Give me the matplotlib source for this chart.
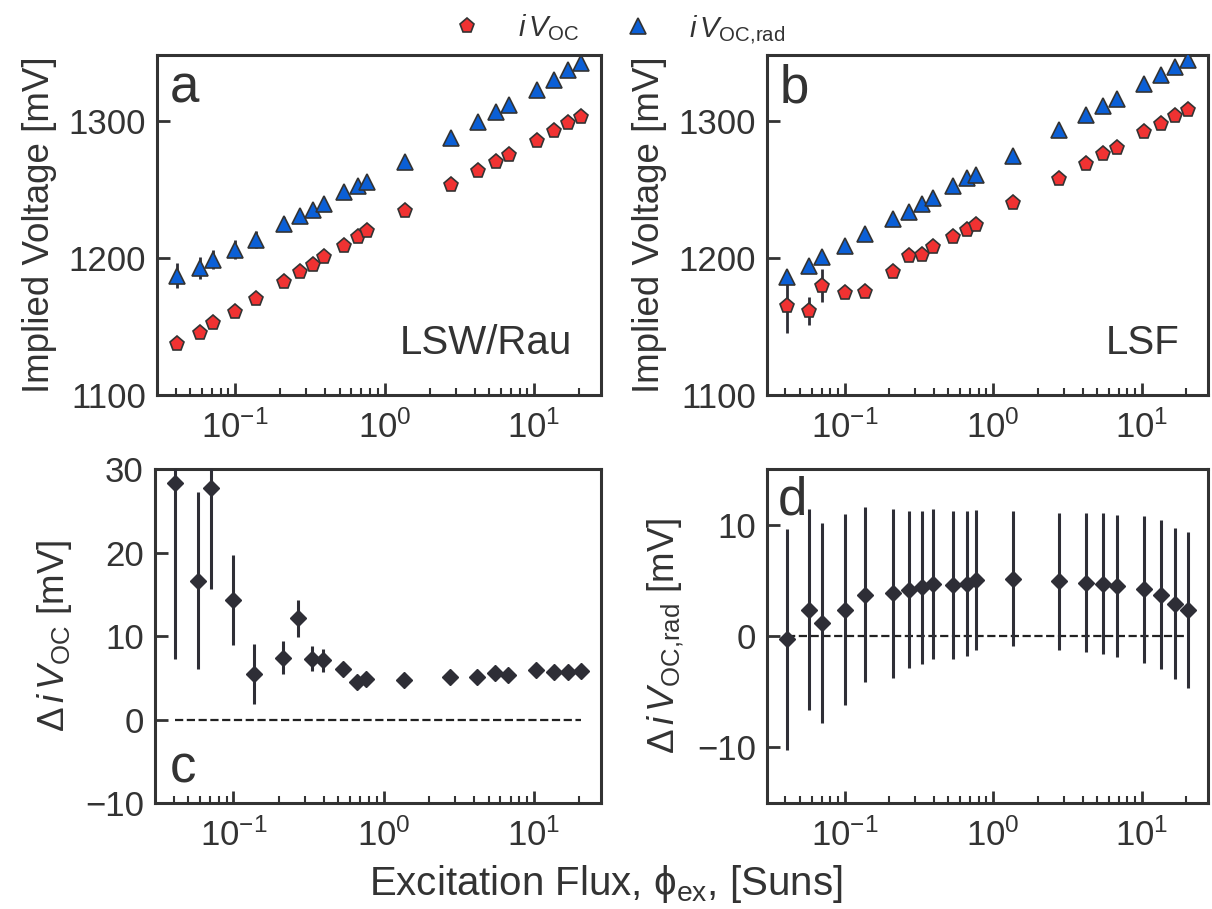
import numpy as np
import matplotlib.pyplot as plt
from matplotlib.lines import Line2D

# excitation flux [Suns], shared by all panels
flux = [0.041, 0.058, 0.071, 0.100, 0.138, 0.213, 0.270, 0.331, 0.396, 0.534, 0.664,
        0.766, 1.36, 2.76, 4.20, 5.52, 6.78, 10.4, 13.6, 16.9, 20.5]

# panel a: LSW/Rau
voc_a = [1136.9, 1145.0, 1152.3, 1160.6, 1169.9, 1182.6, 1190.0, 1195.1, 1200.7, 1209.0, 1215.2,
         1219.3, 1234.5, 1253.0, 1263.3, 1270.2, 1275.1, 1284.9, 1292.7, 1298.1, 1302.7]
voc_a_err = [2, 2, 2, 2, 2, 2, 2, 2, 2, 2, 2, 2, 2, 2, 2, 2, 2, 2, 2, 2, 2]
rad_a = [1187.0, 1192.4, 1198.8, 1206.1, 1213.4, 1224.9, 1230.3, 1234.7, 1239.6, 1247.7, 1252.6,
         1255.0, 1270.2, 1287.8, 1299.0, 1306.2, 1311.7, 1322.7, 1330.1, 1336.7, 1342.3]
rad_a_err = [9, 8, 7, 7, 6, 5, 4, 4, 4, 3, 3, 3, 3, 3, 3, 3, 3, 3, 3, 3, 3]

# panel b: LSF
voc_b = [1165.0, 1161.3, 1179.7, 1174.1, 1174.8, 1190.0, 1201.7, 1202.2, 1207.8, 1215.2, 1220.0,
         1223.7, 1240.3, 1257.4, 1268.5, 1275.6, 1280.5, 1291.5, 1297.8, 1303.2, 1308.1]
voc_b_err = [20, 10, 12, 3, 3, 2, 2, 2, 2, 2, 2, 2, 2, 2, 2, 2, 2, 2, 2, 2, 2]
rad_b = [1185.8, 1194.4, 1200.5, 1208.6, 1217.6, 1228.1, 1233.5, 1239.4, 1243.8, 1252.6, 1258.0,
         1260.4, 1274.6, 1293.4, 1304.0, 1310.6, 1316.1, 1327.1, 1333.7, 1339.2, 1344.0]
rad_b_err = [3, 3, 3, 3, 3, 3, 3, 3, 3, 3, 3, 3, 3, 3, 3, 3, 3, 3, 3, 3, 3]

# panel c: delta iVoc
d_voc = [28.3, 16.6, 27.7, 14.3, 5.45, 7.4, 12.1, 7.3, 7.1, 6.05, 4.5,
         4.9, 4.75, 5.1, 5.1, 5.6, 5.3, 5.9, 5.7, 5.65, 5.8]
d_voc_err = [21.0, 10.6, 12.1, 5.35, 3.55, 1.95, 2.2, 1.5, 1.4, 0.5, 0.4,
             0.4, 0.4, 0.4, 0.4, 0.4, 0.4, 0.4, 0.4, 0.4, 0.4]

# panel d: delta iVoc,rad
d_rad = [-0.3, 2.37, 1.16, 2.37, 3.7, 3.83, 4.15, 4.36, 4.7, 4.6, 4.7,
         5.05, 5.16, 4.9, 4.8, 4.7, 4.5, 4.2, 3.7, 2.9, 2.3]
d_rad_err = [9.9, 9.0, 9.0, 8.6, 7.85, 7.6, 7.05, 6.9, 6.75, 6.65, 6.5,
             6.3, 6.1, 6.15, 6.25, 6.35, 6.4, 6.6, 6.7, 6.8, 7.0]

RED = "#f03232"
BLUE = "#0b5fd6"
DARK = "#2e2e36"
FRAME = "#333333"

plt.rcParams.update({
    "font.family": ["Liberation Sans", "DejaVu Sans"],
    "mathtext.fontset": "custom",
    "mathtext.rm": "Liberation Sans",
    "mathtext.it": "Liberation Sans:italic",
    "mathtext.bf": "Liberation Sans:bold",
    "text.color": FRAME,
    "axes.labelcolor": FRAME,
    "xtick.color": FRAME,
    "ytick.color": FRAME,
    "axes.edgecolor": FRAME,
    "axes.linewidth": 2.2,
})


def style_axes(ax):
    ax.set_xscale("log")
    ax.tick_params(which="both", direction="in", top=False, right=False,
                   labelsize=25, width=2, pad=8)
    ax.tick_params(axis="x", which="both", pad=11)
    ax.tick_params(which="major", length=9)
    ax.tick_params(which="minor", length=5, width=1.5)


def plot_voltage(ax, voc, voc_err, rad, rad_err, letter, name):
    ax.errorbar(flux, rad, yerr=rad_err, fmt="^", ms=11, mfc=BLUE, mec=FRAME, mew=1.2,
                ecolor=DARK, elinewidth=2, capsize=0, zorder=3)
    ax.errorbar(flux, voc, yerr=voc_err, fmt="p", ms=11, mfc=RED, mec=FRAME, mew=1.2,
                ecolor=DARK, elinewidth=2, capsize=0, zorder=3)
    style_axes(ax)
    ax.set_ylim(1100, 1348)
    ax.set_yticks([1100, 1200, 1300])
    ax.set_ylabel("Implied Voltage [mV]", fontsize=26.5, labelpad=8)
    ax.text(0.028, 0.86, letter, transform=ax.transAxes, fontsize=38, va="baseline")
    ax.text(0.935, 0.12, name, transform=ax.transAxes, fontsize=29, ha="right", va="baseline")


def plot_delta(ax, vals, errs, letter, lx, ly):
    ax.plot([flux[0], flux[-1]], [0, 0], "--", color="#222222", lw=1.6, zorder=1)
    ax.errorbar(flux, vals, yerr=errs, fmt="D", ms=8.5, mfc=DARK, mec=DARK,
                ecolor=DARK, elinewidth=2.2, capsize=0, zorder=3)
    style_axes(ax)
    ax.text(lx, ly, letter, transform=ax.transAxes, fontsize=38, va="baseline")


fig = plt.figure(figsize=(12.12, 9.09), dpi=100)
ax_a = fig.add_axes([0.1295, 0.5655, 0.3663, 0.374])
ax_b = fig.add_axes([0.6328, 0.5655, 0.3639, 0.374])
ax_c = fig.add_axes([0.1279, 0.1166, 0.3679, 0.3674])
ax_d = fig.add_axes([0.6328, 0.1166, 0.3639, 0.3674])

plot_voltage(ax_a, voc_a, voc_a_err, rad_a, rad_a_err, "a", "LSW/Rau")
plot_voltage(ax_b, voc_b, voc_b_err, rad_b, rad_b_err, "b", "LSF")

plot_delta(ax_c, d_voc, d_voc_err, "c", 0.034, 0.06)
ax_c.set_ylim(-10, 30)
ax_c.set_yticks([-10, 0, 10, 20, 30])
ax_c.set_ylabel(r"$\Delta\,i\,V_{\rm OC}$ [mV]", fontsize=26.5, labelpad=8)

plot_delta(ax_d, d_rad, d_rad_err, "d", 0.025, 0.864)
ax_d.set_ylim(-15, 15)
ax_d.set_yticks([-10, 0, 10])
ax_d.set_ylabel(r"$\Delta\,i\,V_{\rm OC{,}rad}$ [mV]", fontsize=26.5, labelpad=8)

fig.text(0.5, 0.004, r"Excitation Flux, $\mathrm{\phi}_{\rm ex}$, [Suns]",
         ha="center", va="bottom", fontsize=29)

handles = [
    Line2D([], [], ls="none", marker="p", ms=11, mfc=RED, mec=FRAME, mew=1.2),
    Line2D([], [], ls="none", marker="^", ms=11, mfc=BLUE, mec=FRAME, mew=1.2),
]
fig.legend(handles, [r"$i\,V_{\rm OC}$", r"$i\,V_{\rm OC{,}rad}$"], loc="upper center",
           bbox_to_anchor=(0.505, 1.015), ncol=2, frameon=False, fontsize=21,
           handletextpad=0.75, columnspacing=1.0)

fig.savefig("out.png", dpi=100)
